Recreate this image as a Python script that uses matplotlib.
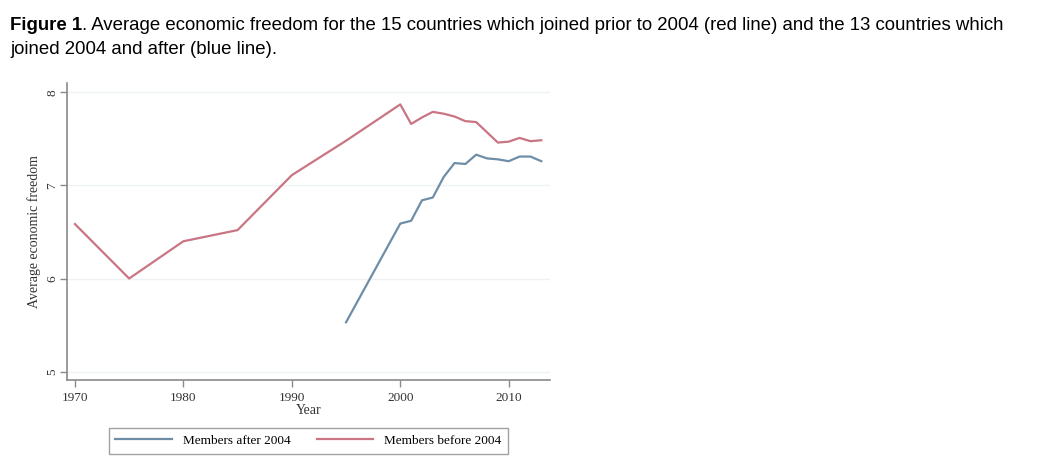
import matplotlib.pyplot as plt

years_before = [1970, 1975, 1980, 1985, 1990, 1995, 2000, 2001, 2002, 2003, 2004,
                2005, 2006, 2007, 2008, 2009, 2010, 2011, 2012, 2013]
freedom_before = [6.585, 6.00, 6.40, 6.52, 7.11, 7.48, 7.87, 7.66, 7.73, 7.79, 7.77,
                  7.74, 7.69, 7.68, 7.57, 7.46, 7.47, 7.51, 7.475, 7.485]

years_after = [1995, 2000, 2001, 2002, 2003, 2004, 2005, 2006, 2007, 2008, 2009,
               2010, 2011, 2012, 2013]
freedom_after = [5.53, 6.59, 6.62, 6.84, 6.87, 7.09, 7.24, 7.23, 7.33, 7.29, 7.28,
                 7.26, 7.31, 7.31, 7.26]

xticks = [1970, 1980, 1990, 2000, 2010]
yticks = [5, 6, 7, 8]

red = '#c97583'
blue = '#6e8ea8'
axcol = '#8a8a8a'
serif = 'Liberation Serif'
tsize = 13.4

fig = plt.figure(figsize=(10.4, 4.67), dpi=100)

# caption: bold "Figure 1" followed by regular text
bold = fig.text(0.0096, 0.963, 'Figure 1', fontsize=tsize, fontweight='bold',
                family='Liberation Sans', va='top')
r = fig.canvas.get_renderer()
bb = bold.get_window_extent(renderer=r)
x_next = bb.x1 / fig.bbox.width
fig.text(x_next, 0.963,
         '. Average economic freedom for the 15 countries which joined prior to 2004 (red line) and the 13 countries which',
         fontsize=tsize, family='Liberation Sans', va='top')
fig.text(0.0096, 0.913, 'joined 2004 and after (blue line).',
         fontsize=tsize, family='Liberation Sans', va='top')

ax = fig.add_axes([0.0641, 0.1863, 0.4647, 0.636])
ax.plot(years_after, freedom_after, color=blue, lw=1.6, label='Members after 2004')
ax.plot(years_before, freedom_before, color=red, lw=1.6, label='Members before 2004')

ax.set_xlim(1969.24, 2013.8)
ax.set_ylim(4.91, 8.1)
ax.set_xticks(xticks)
ax.set_yticks(yticks)
ax.grid(axis='y', color='#eef2f4', lw=1)
ax.set_axisbelow(True)
for s in ['top', 'right']:
    ax.spines[s].set_visible(False)
for s in ['left', 'bottom']:
    ax.spines[s].set_color(axcol)
    ax.spines[s].set_linewidth(1.2)
ax.tick_params(color=axcol, length=5, width=1, labelsize=9.5, labelcolor='#333333')
ax.tick_params(axis='y', pad=1)
for lab in ax.get_xticklabels():
    lab.set_family(serif)
for lab in ax.get_yticklabels():
    lab.set_family(serif)
    lab.set_rotation(90)
    lab.set_va('center')
ax.set_xlabel('Year', family=serif, fontsize=10, labelpad=0, color='#333333')
ax.set_ylabel('Average economic freedom', family=serif, fontsize=10, labelpad=4,
              color='#333333')

leg = ax.legend(loc='upper center', bbox_to_anchor=(0.5, -0.14), ncol=2,
                frameon=True, fancybox=False, prop={'family': serif, 'size': 9.5},
                handlelength=4.3, columnspacing=2.0, borderpad=0.5)
leg.get_frame().set_edgecolor(axcol)
leg.get_frame().set_linewidth(1)

fig.savefig('out.png', dpi=100)
